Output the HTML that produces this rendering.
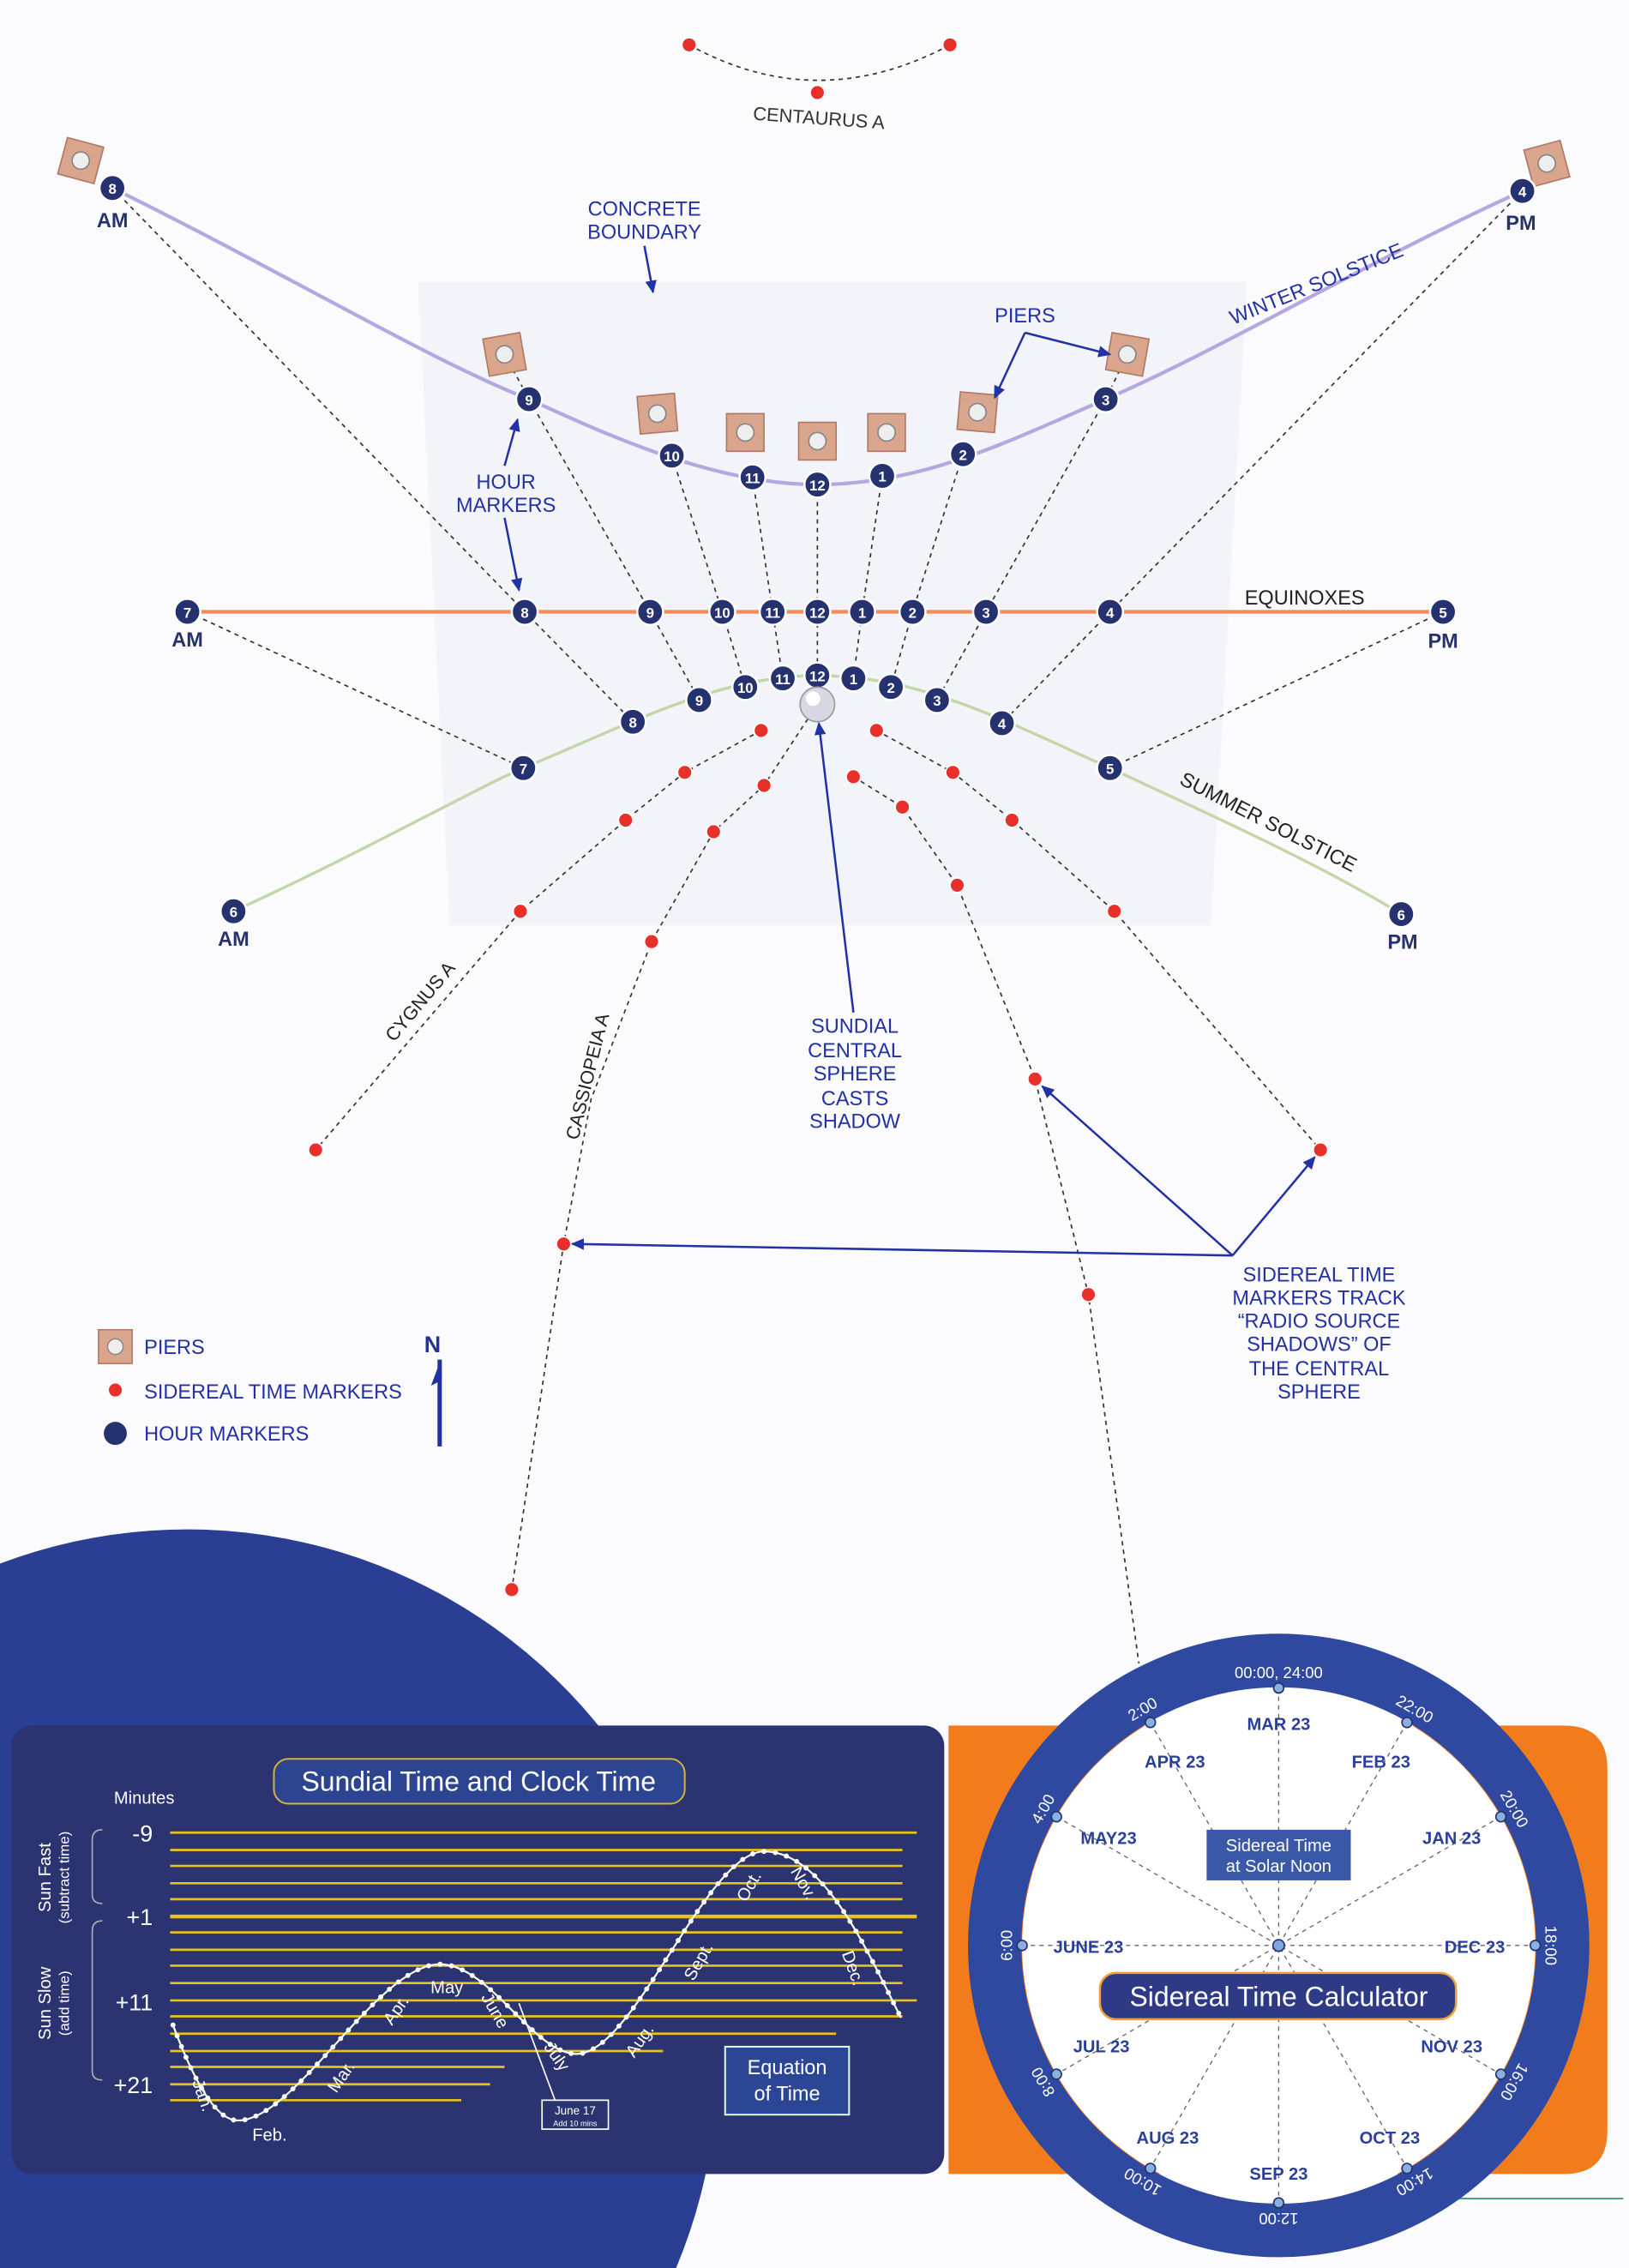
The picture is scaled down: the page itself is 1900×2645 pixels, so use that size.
<!DOCTYPE html>
<html><head><meta charset="utf-8"><style>
html,body{margin:0;padding:0;background:#fbfbfd;width:1900px;height:2645px;overflow:hidden;}
svg{display:block;overflow:hidden;}
text{font-family:"Liberation Sans",sans-serif;}
.lb{fill:#2231a3;font-size:14px;}
.hm circle{fill:#26326f;stroke:#fff;stroke-width:1.5;}
.hm text{fill:#fff;font-size:10px;font-weight:bold;text-anchor:middle;}
.rd{fill:#e8302a;stroke:#fff;stroke-width:1;}
.ds{fill:none;stroke:#333;stroke-width:1;stroke-dasharray:3 3;}
.ap{fill:#26326f;font-size:14px;font-weight:bold;text-anchor:middle;}
.yl{stroke:#e8c21a;stroke-width:1.6;}
.rl{fill:#fff;font-size:11px;text-anchor:middle;}
.ml{fill:#2a3f9c;font-size:12px;font-weight:bold;text-anchor:middle;}
</style></head><body>
<svg width="1900" height="2645" viewBox="0 0 1130 1568" preserveAspectRatio="none" xmlns="http://www.w3.org/2000/svg">
<defs>
<marker id="ar" markerWidth="10" markerHeight="10" refX="8" refY="5" orient="auto" markerUnits="userSpaceOnUse"><path d="M0,1 L9,5 L0,9 z" fill="#2231a3"/></marker>
<g id="pier"><rect x="-13" y="-13" width="26" height="26" fill="#d9a58c" stroke="#b07a66"/><circle r="6" fill="#eee" stroke="#888"/></g>
</defs>
<rect width="1130" height="1568" fill="#fbfbfd"/>
<path d="M290,195 L865,195 L840,640 L312,640 z" fill="#eef0f8" opacity="0.6"/>

<path d="M478,31 Q567,80 659,31" class="ds"/>
<circle cx="478" cy="31" r="5" class="rd"/><circle cx="567" cy="64" r="5" class="rd"/><circle cx="659" cy="31" r="5" class="rd"/>
<text x="568" y="86" font-size="13" fill="#333" text-anchor="middle" transform="rotate(4,568,82)">CENTAURUS A</text>

<path d="M78,130 C200,190 300,250 367,276 C430,305 500,335 567,335 C640,335 700,305 767,276 C850,240 950,180 1056,132" fill="none" stroke="#b3a8e0" stroke-width="2.5"/>
<line x1="130" y1="423" x2="1001" y2="423" stroke="#f38a5a" stroke-width="2.5"/>
<path d="M162,630 C250,590 330,545 363,531 C440,499 500,467 567,467 C640,467 700,500 770,531 C850,568 920,600 972,632" fill="none" stroke="#c3d6a8" stroke-width="2"/>

<polyline class="ds" points="78,130 364,423 439,499"/>
<polyline class="ds" points="367,276 451,423 485,484"/>
<polyline class="ds" points="466,315 501,423 517,475"/>
<polyline class="ds" points="522,330 536,423 543,469"/>
<polyline class="ds" points="567,335 567,423 567,467"/>
<polyline class="ds" points="612,329 598,423 592,469"/>
<polyline class="ds" points="668,314 633,423 618,475"/>
<polyline class="ds" points="767,276 684,423 650,484"/>
<polyline class="ds" points="1056,132 770,423 695,500"/>
<polyline class="ds" points="130,423 363,531"/>
<polyline class="ds" points="1001,423 770,531"/>
<polyline class="ds" points="350,245 367,276"/>
<polyline class="ds" points="782,245 767,276"/>

<polyline class="ds" points="528,505 475,534 434,567 361,630 219,795"/>
<polyline class="ds" points="567,487 530,543 495,575 452,651 410,760 391,860 355,1099"/>
<polyline class="ds" points="608,505 661,534 702,567 773,630 916,795"/>
<polyline class="ds" points="592,537 626,558 664,612 718,746 755,895 790,1150"/>

<use href="#pier" transform="translate(56,111) rotate(15)"/>
<use href="#pier" transform="translate(350,245) rotate(-10)"/>
<use href="#pier" transform="translate(456,286) rotate(-5)"/>
<use href="#pier" transform="translate(517,299)"/>
<use href="#pier" transform="translate(567,305)"/>
<use href="#pier" transform="translate(615,299)"/>
<use href="#pier" transform="translate(678,285) rotate(5)"/>
<use href="#pier" transform="translate(782,245) rotate(10)"/>
<use href="#pier" transform="translate(1073,113) rotate(-15)"/>

<g>
<circle cx="528" cy="505" r="5" class="rd"/><circle cx="608" cy="505" r="5" class="rd"/>
<circle cx="475" cy="534" r="5" class="rd"/><circle cx="530" cy="543" r="5" class="rd"/>
<circle cx="592" cy="537" r="5" class="rd"/><circle cx="661" cy="534" r="5" class="rd"/>
<circle cx="434" cy="567" r="5" class="rd"/><circle cx="495" cy="575" r="5" class="rd"/>
<circle cx="626" cy="558" r="5" class="rd"/><circle cx="702" cy="567" r="5" class="rd"/>
<circle cx="361" cy="630" r="5" class="rd"/><circle cx="452" cy="651" r="5" class="rd"/>
<circle cx="664" cy="612" r="5" class="rd"/><circle cx="773" cy="630" r="5" class="rd"/>
<circle cx="219" cy="795" r="5" class="rd"/><circle cx="718" cy="746" r="5" class="rd"/>
<circle cx="916" cy="795" r="5" class="rd"/><circle cx="391" cy="860" r="5" class="rd"/>
<circle cx="755" cy="895" r="5" class="rd"/><circle cx="355" cy="1099" r="5" class="rd"/>
</g>

<g class="hm">
<g transform="translate(78,130)"><circle r="9"/><text y="4">8</text></g>
<g transform="translate(367,276)"><circle r="9"/><text y="4">9</text></g>
<g transform="translate(466,315)"><circle r="9"/><text y="4">10</text></g>
<g transform="translate(522,330)"><circle r="9"/><text y="4">11</text></g>
<g transform="translate(567,335)"><circle r="9"/><text y="4">12</text></g>
<g transform="translate(612,329)"><circle r="9"/><text y="4">1</text></g>
<g transform="translate(668,314)"><circle r="9"/><text y="4">2</text></g>
<g transform="translate(767,276)"><circle r="9"/><text y="4">3</text></g>
<g transform="translate(1056,132)"><circle r="9"/><text y="4">4</text></g>
<g transform="translate(130,423)"><circle r="9"/><text y="4">7</text></g>
<g transform="translate(364,423)"><circle r="9"/><text y="4">8</text></g>
<g transform="translate(451,423)"><circle r="9"/><text y="4">9</text></g>
<g transform="translate(501,423)"><circle r="9"/><text y="4">10</text></g>
<g transform="translate(536,423)"><circle r="9"/><text y="4">11</text></g>
<g transform="translate(567,423)"><circle r="9"/><text y="4">12</text></g>
<g transform="translate(598,423)"><circle r="9"/><text y="4">1</text></g>
<g transform="translate(633,423)"><circle r="9"/><text y="4">2</text></g>
<g transform="translate(684,423)"><circle r="9"/><text y="4">3</text></g>
<g transform="translate(770,423)"><circle r="9"/><text y="4">4</text></g>
<g transform="translate(1001,423)"><circle r="9"/><text y="4">5</text></g>
<g transform="translate(162,630)"><circle r="9"/><text y="4">6</text></g>
<g transform="translate(363,531)"><circle r="9"/><text y="4">7</text></g>
<g transform="translate(439,499)"><circle r="9"/><text y="4">8</text></g>
<g transform="translate(485,484)"><circle r="9"/><text y="4">9</text></g>
<g transform="translate(517,475)"><circle r="9"/><text y="4">10</text></g>
<g transform="translate(543,469)"><circle r="9"/><text y="4">11</text></g>
<g transform="translate(567,467)"><circle r="9"/><text y="4">12</text></g>
<g transform="translate(592,469)"><circle r="9"/><text y="4">1</text></g>
<g transform="translate(618,475)"><circle r="9"/><text y="4">2</text></g>
<g transform="translate(650,484)"><circle r="9"/><text y="4">3</text></g>
<g transform="translate(695,500)"><circle r="9"/><text y="4">4</text></g>
<g transform="translate(770,531)"><circle r="9"/><text y="4">5</text></g>
<g transform="translate(972,632)"><circle r="9"/><text y="4">6</text></g>
</g>
<text class="ap" x="78" y="157">AM</text><text class="ap" x="1055" y="159">PM</text>
<text class="ap" x="130" y="447">AM</text><text class="ap" x="1001" y="448">PM</text>
<text class="ap" x="162" y="654">AM</text><text class="ap" x="973" y="656">PM</text>

<circle cx="567" cy="487" r="12" fill="#d8d8e4" stroke="#999"/><circle cx="564" cy="483" r="5" fill="#fff"/>

<text class="lb" x="447" y="149" text-anchor="middle">CONCRETE</text>
<text class="lb" x="447" y="165" text-anchor="middle">BOUNDARY</text>
<line x1="447" y1="170" x2="453" y2="202" stroke="#2231a3" stroke-width="1.5" marker-end="url(#ar)"/>
<text class="lb" x="711" y="223" text-anchor="middle">PIERS</text>
<line x1="711" y1="230" x2="770" y2="245" stroke="#2231a3" stroke-width="1.5" marker-end="url(#ar)"/>
<line x1="711" y1="230" x2="690" y2="275" stroke="#2231a3" stroke-width="1.5" marker-end="url(#ar)"/>
<text class="lb" x="351" y="338" text-anchor="middle">HOUR</text>
<text class="lb" x="351" y="354" text-anchor="middle">MARKERS</text>
<line x1="350" y1="322" x2="359" y2="290" stroke="#2231a3" stroke-width="1.5" marker-end="url(#ar)"/>
<line x1="350" y1="358" x2="360" y2="408" stroke="#2231a3" stroke-width="1.5" marker-end="url(#ar)"/>
<text class="lb" x="913" y="201" text-anchor="middle" transform="rotate(-22,913,196)">WINTER SOLSTICE</text>
<text x="905" y="418" font-size="14" fill="#222" text-anchor="middle">EQUINOXES</text>
<text x="880" y="573" font-size="14" fill="#222" text-anchor="middle" transform="rotate(27,880,568)">SUMMER SOLSTICE</text>
<text x="291" y="697" font-size="13" fill="#222" text-anchor="middle" transform="rotate(-50,291,692)">CYGNUS A</text>
<text x="407" y="749" font-size="13" fill="#222" text-anchor="middle" transform="rotate(-76,407,744)">CASSIOPEIA A</text>
<g class="lb" text-anchor="middle">
<text x="593" y="714">SUNDIAL</text><text x="593" y="731">CENTRAL</text><text x="593" y="747">SPHERE</text><text x="593" y="764">CASTS</text><text x="593" y="780">SHADOW</text>
</g>
<line x1="592" y1="700" x2="568" y2="500" stroke="#2231a3" stroke-width="1.5" marker-end="url(#ar)"/>
<g class="lb" text-anchor="middle">
<text x="915" y="886">SIDEREAL TIME</text><text x="915" y="902">MARKERS TRACK</text><text x="915" y="918">“RADIO SOURCE</text><text x="915" y="934">SHADOWS” OF</text><text x="915" y="951">THE CENTRAL</text><text x="915" y="967">SPHERE</text>
</g>
<line x1="855" y1="868" x2="397" y2="860" stroke="#2231a3" stroke-width="1.5" marker-end="url(#ar)"/>
<line x1="855" y1="868" x2="723" y2="751" stroke="#2231a3" stroke-width="1.5" marker-end="url(#ar)"/>
<line x1="855" y1="868" x2="912" y2="800" stroke="#2231a3" stroke-width="1.5" marker-end="url(#ar)"/>

<use href="#pier" transform="translate(80,931) scale(0.9)"/>
<text class="lb" x="100" y="936">PIERS</text>
<circle cx="80" cy="961" r="5" class="rd"/>
<text class="lb" x="100" y="967">SIDEREAL TIME MARKERS</text>
<circle cx="80" cy="991" r="8" fill="#26326f"/>
<text class="lb" x="100" y="996">HOUR MARKERS</text>
<text x="300" y="935" font-size="16" font-weight="bold" fill="#2231a3" text-anchor="middle">N</text>
<path d="M305,940 L305,1000" stroke="#2231a3" stroke-width="3"/>
<path d="M305,942 L299,958 L305,955 z" fill="#2231a3"/>

<path d="M0,1081 A368,368 0 0 1 469,1568 L0,1568 Z" fill="#2a3f93"/>
<line x1="990" y1="1520" x2="1126" y2="1520" stroke="#2e9a6a" stroke-width="1"/>
<path d="M658,1193 L1085,1193 Q1115,1193 1115,1223 L1115,1473 Q1115,1503 1085,1503 L658,1503 z" fill="#f27b1c"/>
<rect x="8" y="1193" width="647" height="310" rx="14" fill="#2b3370"/>
<rect x="190" y="1216" width="285" height="31" rx="10" fill="#2d4490" stroke="#d8b23a" stroke-width="1.2"/>
<text x="332" y="1238" font-size="19" fill="#fff" text-anchor="middle">Sundial Time and Clock Time</text>
<text x="100" y="1247" font-size="12" fill="#fff" text-anchor="middle">Minutes</text>
<text x="35" y="1298" font-size="12" fill="#fff" text-anchor="middle" transform="rotate(-90,35,1298)">Sun Fast</text>
<text x="48" y="1298" font-size="10" fill="#fff" text-anchor="middle" transform="rotate(-90,48,1298)">(subtract time)</text>
<text x="35" y="1385" font-size="12" fill="#fff" text-anchor="middle" transform="rotate(-90,35,1385)">Sun Slow</text>
<text x="48" y="1385" font-size="10" fill="#fff" text-anchor="middle" transform="rotate(-90,48,1385)">(add time)</text>
<path d="M71,1265 Q64,1265 64,1272 L64,1310 Q64,1316 71,1316" fill="none" stroke="#aab" stroke-width="1"/>
<path d="M71,1328 Q64,1328 64,1335 L64,1432 Q64,1438 71,1438" fill="none" stroke="#aab" stroke-width="1"/>
<g class="yl">
<line x1="118" y1="1267" x2="636" y2="1267"/>
<line x1="118" y1="1279" x2="626" y2="1279"/>
<line x1="118" y1="1290" x2="626" y2="1290"/>
<line x1="118" y1="1302" x2="626" y2="1302"/>
<line x1="118" y1="1313" x2="626" y2="1313"/>
<line x1="118" y1="1325" x2="636" y2="1325" stroke-width="2.6"/>
<line x1="118" y1="1336" x2="626" y2="1336"/>
<line x1="118" y1="1348" x2="626" y2="1348"/>
<line x1="118" y1="1359" x2="626" y2="1359"/>
<line x1="118" y1="1371" x2="626" y2="1371"/>
<line x1="118" y1="1383" x2="636" y2="1383"/>
<line x1="118" y1="1394" x2="626" y2="1394"/>
<line x1="118" y1="1406" x2="580" y2="1406"/>
<line x1="118" y1="1418" x2="460" y2="1418"/>
<line x1="118" y1="1429" x2="350" y2="1429"/>
<line x1="118" y1="1441" x2="340" y2="1441"/>
<line x1="118" y1="1452" x2="320" y2="1452"/>
</g>
<g font-size="16" fill="#fff" text-anchor="end">
<text x="106" y="1273">-9</text><text x="106" y="1331">+1</text><text x="106" y="1390">+11</text><text x="106" y="1447">+21</text>
</g>
<path d="M120,1400 C135,1440 150,1466 165,1466 C205,1466 262,1358 305,1358 C340,1358 370,1420 400,1420 C440,1420 490,1280 530,1280 C572,1280 602,1350 625,1395" fill="none" stroke="#fff" stroke-width="1.3"/>
<path d="M120,1400 C135,1440 150,1466 165,1466 C205,1466 262,1358 305,1358 C340,1358 370,1420 400,1420 C440,1420 490,1280 530,1280 C572,1280 602,1350 625,1395" fill="none" stroke="#fff" stroke-width="3.5" stroke-linecap="round" stroke-dasharray="0 8"/>
<g font-size="12" fill="#fff" text-anchor="middle">
<text x="137" y="1450" transform="rotate(70,137,1450)">Jan.</text>
<text x="187" y="1480">Feb.</text>
<text x="240" y="1438" transform="rotate(-55,240,1438)">Mar.</text>
<text x="278" y="1392" transform="rotate(-55,278,1392)">Apr.</text>
<text x="310" y="1378">May</text>
<text x="340" y="1392" transform="rotate(60,340,1392)">June</text>
<text x="383" y="1424" transform="rotate(55,383,1424)">July</text>
<text x="447" y="1413" transform="rotate(-55,447,1413)">Aug.</text>
<text x="488" y="1358" transform="rotate(-60,488,1358)">Sept.</text>
<text x="523" y="1306" transform="rotate(-60,523,1306)">Oct.</text>
<text x="554" y="1304" transform="rotate(60,554,1304)">Nov.</text>
<text x="588" y="1362" transform="rotate(70,588,1362)">Dec.</text>
</g>
<line x1="360" y1="1385" x2="385" y2="1452" stroke="#fff" stroke-width="1"/>
<rect x="376" y="1452" width="46" height="20" fill="none" stroke="#fff" stroke-width="1"/>
<text x="399" y="1462" font-size="8" fill="#fff" text-anchor="middle">June 17</text>
<text x="399" y="1470" font-size="5.5" fill="#fff" text-anchor="middle">Add 10 mins</text>
<rect x="503" y="1415" width="86" height="47" fill="#2c4696" stroke="#dfe" stroke-width="1.2"/>
<text x="546" y="1434" font-size="14" fill="#fff" text-anchor="middle">Equation</text>
<text x="546" y="1452" font-size="14" fill="#fff" text-anchor="middle">of Time</text>

<circle cx="887" cy="1345" r="197" fill="none" stroke="#2f49a0" stroke-width="37"/>
<circle cx="887" cy="1345" r="178" fill="#fff"/>
<g stroke="#666" stroke-width="0.8" stroke-dasharray="3 3">
<line x1="887" y1="1167" x2="887" y2="1523"/>
<line x1="709" y1="1345" x2="1065" y2="1345"/>
<line x1="798" y1="1191" x2="976" y2="1499"/>
<line x1="976" y1="1191" x2="798" y2="1499"/>
<line x1="733" y1="1256" x2="1041" y2="1434"/>
<line x1="1041" y1="1256" x2="733" y2="1434"/>
</g>
<rect x="837" y="1265" width="100" height="35" fill="#3a58a8"/>
<text x="887" y="1280" font-size="12" fill="#fff" text-anchor="middle">Sidereal Time</text>
<text x="887" y="1294" font-size="12" fill="#fff" text-anchor="middle">at Solar Noon</text>
<circle cx="887" cy="1345" r="4" fill="#7fa7dd" stroke="#26326f"/>
<rect x="763" y="1364" width="247" height="32" rx="11" fill="#2e3a86" stroke="#f0a030" stroke-width="1.5"/>
<text x="887" y="1387" font-size="19" fill="#fff" text-anchor="middle">Sidereal Time Calculator</text>
<g class="ml">
<text x="887" y="1196">MAR 23</text><text x="958" y="1222">FEB 23</text><text x="1007" y="1275">JAN 23</text>
<text x="1023" y="1350">DEC 23</text><text x="1007" y="1419">NOV 23</text><text x="964" y="1482">OCT 23</text>
<text x="887" y="1507">SEP 23</text><text x="810" y="1482">AUG 23</text><text x="764" y="1419">JUL 23</text>
<text x="755" y="1350">JUNE 23</text><text x="769" y="1275">MAY23</text><text x="815" y="1222">APR 23</text>
</g>
<g>
<g transform="rotate(0,887,1345)"><circle cx="887" cy="1167" r="3.5" fill="#8ab0e0" stroke="#26326f"/><text class="rl" x="887" y="1160">00:00, 24:00</text></g>
<g transform="rotate(-30,887,1345)"><circle cx="887" cy="1167" r="3.5" fill="#8ab0e0" stroke="#26326f"/><text class="rl" x="887" y="1160">2:00</text></g>
<g transform="rotate(-60,887,1345)"><circle cx="887" cy="1167" r="3.5" fill="#8ab0e0" stroke="#26326f"/><text class="rl" x="887" y="1160">4:00</text></g>
<g transform="rotate(-90,887,1345)"><circle cx="887" cy="1167" r="3.5" fill="#8ab0e0" stroke="#26326f"/><text class="rl" x="887" y="1160">6:00</text></g>
<g transform="rotate(-120,887,1345)"><circle cx="887" cy="1167" r="3.5" fill="#8ab0e0" stroke="#26326f"/><text class="rl" x="887" y="1160">8:00</text></g>
<g transform="rotate(-150,887,1345)"><circle cx="887" cy="1167" r="3.5" fill="#8ab0e0" stroke="#26326f"/><text class="rl" x="887" y="1160">10:00</text></g>
<g transform="rotate(180,887,1345)"><circle cx="887" cy="1167" r="3.5" fill="#8ab0e0" stroke="#26326f"/><text class="rl" x="887" y="1160">12:00</text></g>
<g transform="rotate(150,887,1345)"><circle cx="887" cy="1167" r="3.5" fill="#8ab0e0" stroke="#26326f"/><text class="rl" x="887" y="1160">14:00</text></g>
<g transform="rotate(120,887,1345)"><circle cx="887" cy="1167" r="3.5" fill="#8ab0e0" stroke="#26326f"/><text class="rl" x="887" y="1160">16:00</text></g>
<g transform="rotate(90,887,1345)"><circle cx="887" cy="1167" r="3.5" fill="#8ab0e0" stroke="#26326f"/><text class="rl" x="887" y="1160">18:00</text></g>
<g transform="rotate(60,887,1345)"><circle cx="887" cy="1167" r="3.5" fill="#8ab0e0" stroke="#26326f"/><text class="rl" x="887" y="1160">20:00</text></g>
<g transform="rotate(30,887,1345)"><circle cx="887" cy="1167" r="3.5" fill="#8ab0e0" stroke="#26326f"/><text class="rl" x="887" y="1160">22:00</text></g>
</g>
</svg>
</body></html>
